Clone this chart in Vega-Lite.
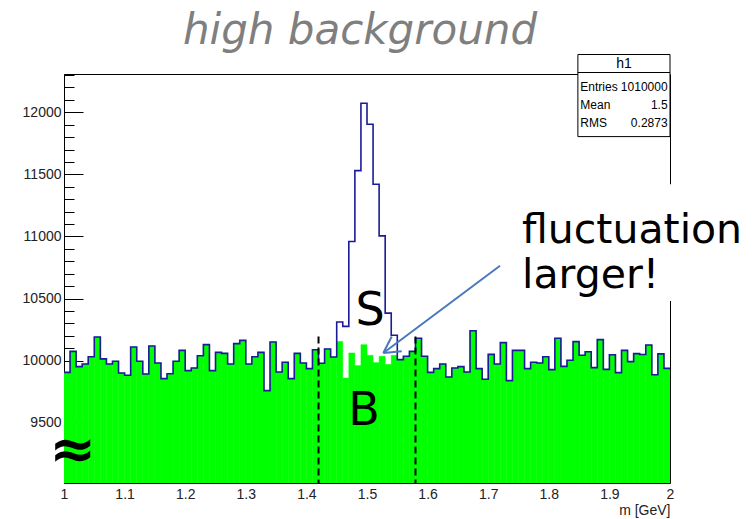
{
  "$schema": "https://vega.github.io/schema/vega-lite/v6.json",
  "width": 606,
  "height": 409,
  "autosize": {"type": "none"},
  "padding": {"left": 64, "top": 74, "right": 86, "bottom": 36},
  "background": "white",
  "config": {"view": {"stroke": "black", "strokeWidth": 1}},
  "title": {"text": "high background", "anchor": "middle", "frame": "group", "font": "DejaVu Sans", "fontSize": 42, "fontStyle": "italic", "fontWeight": "normal", "color": "#7f7f7f", "dx": -7, "offset": 1},
  "datasets": {
    "hist": [
      {"lo":1.00,"hi":1.01,"total":9906,"bkg":9906},{"lo":1.01,"hi":1.02,"total":10075,"bkg":10075},{"lo":1.02,"hi":1.03,"total":9952,"bkg":9952},{"lo":1.03,"hi":1.04,"total":9973,"bkg":9973},{"lo":1.04,"hi":1.05,"total":10032,"bkg":10032},
      {"lo":1.05,"hi":1.06,"total":10190,"bkg":10190},{"lo":1.06,"hi":1.07,"total":10014,"bkg":10014},{"lo":1.07,"hi":1.08,"total":9973,"bkg":9973},{"lo":1.08,"hi":1.09,"total":9995,"bkg":9995},{"lo":1.09,"hi":1.10,"total":9901,"bkg":9901},
      {"lo":1.10,"hi":1.11,"total":9882,"bkg":9882},{"lo":1.11,"hi":1.12,"total":10110,"bkg":10110},{"lo":1.12,"hi":1.13,"total":9995,"bkg":9995},{"lo":1.13,"hi":1.14,"total":9893,"bkg":9893},{"lo":1.14,"hi":1.15,"total":10118,"bkg":10118},
      {"lo":1.15,"hi":1.16,"total":9981,"bkg":9981},{"lo":1.16,"hi":1.17,"total":9855,"bkg":9855},{"lo":1.17,"hi":1.18,"total":9895,"bkg":9895},{"lo":1.18,"hi":1.19,"total":9995,"bkg":9995},{"lo":1.19,"hi":1.20,"total":10083,"bkg":10083},
      {"lo":1.20,"hi":1.21,"total":9920,"bkg":9920},{"lo":1.21,"hi":1.22,"total":9941,"bkg":9941},{"lo":1.22,"hi":1.23,"total":10040,"bkg":10040},{"lo":1.23,"hi":1.24,"total":10129,"bkg":10129},{"lo":1.24,"hi":1.25,"total":9920,"bkg":9920},
      {"lo":1.25,"hi":1.26,"total":10067,"bkg":10067},{"lo":1.26,"hi":1.27,"total":10059,"bkg":10059},{"lo":1.27,"hi":1.28,"total":9973,"bkg":9973},{"lo":1.28,"hi":1.29,"total":10137,"bkg":10137},{"lo":1.29,"hi":1.30,"total":10163,"bkg":10163},
      {"lo":1.30,"hi":1.31,"total":9973,"bkg":9973},{"lo":1.31,"hi":1.32,"total":10032,"bkg":10032},{"lo":1.32,"hi":1.33,"total":10067,"bkg":10067},{"lo":1.33,"hi":1.34,"total":9759,"bkg":9759},{"lo":1.34,"hi":1.35,"total":10150,"bkg":10150},
      {"lo":1.35,"hi":1.36,"total":9909,"bkg":9909},{"lo":1.36,"hi":1.37,"total":9987,"bkg":9987},{"lo":1.37,"hi":1.38,"total":9855,"bkg":9855},{"lo":1.38,"hi":1.39,"total":10059,"bkg":10059},{"lo":1.39,"hi":1.40,"total":9981,"bkg":9981},
      {"lo":1.40,"hi":1.41,"total":9936,"bkg":9936},{"lo":1.41,"hi":1.42,"total":10088,"bkg":10088},{"lo":1.42,"hi":1.43,"total":9979,"bkg":9979},{"lo":1.43,"hi":1.44,"total":10094,"bkg":10094},{"lo":1.44,"hi":1.45,"total":10030,"bkg":10030},
      {"lo":1.45,"hi":1.46,"total":10311,"bkg":10155},{"lo":1.46,"hi":1.47,"total":10276,"bkg":9860},{"lo":1.47,"hi":1.48,"total":10959,"bkg":10062},{"lo":1.48,"hi":1.49,"total":11530,"bkg":9960},{"lo":1.49,"hi":1.50,"total":12072,"bkg":10129},
      {"lo":1.50,"hi":1.51,"total":11903,"bkg":10043},{"lo":1.51,"hi":1.52,"total":11420,"bkg":9984},{"lo":1.52,"hi":1.53,"total":11005,"bkg":10035},{"lo":1.53,"hi":1.54,"total":10383,"bkg":9970},{"lo":1.54,"hi":1.55,"total":10204,"bkg":10043},
      {"lo":1.55,"hi":1.56,"total":10008,"bkg":10008},{"lo":1.56,"hi":1.57,"total":10035,"bkg":10035},{"lo":1.57,"hi":1.58,"total":10075,"bkg":10075},{"lo":1.58,"hi":1.59,"total":10180,"bkg":10180},{"lo":1.59,"hi":1.60,"total":10035,"bkg":10035},
      {"lo":1.60,"hi":1.61,"total":9906,"bkg":9906},{"lo":1.61,"hi":1.62,"total":9936,"bkg":9936},{"lo":1.62,"hi":1.63,"total":9973,"bkg":9973},{"lo":1.63,"hi":1.64,"total":9869,"bkg":9869},{"lo":1.64,"hi":1.65,"total":9941,"bkg":9941},
      {"lo":1.65,"hi":1.66,"total":9952,"bkg":9952},{"lo":1.66,"hi":1.67,"total":9909,"bkg":9909},{"lo":1.67,"hi":1.68,"total":10241,"bkg":10241},{"lo":1.68,"hi":1.69,"total":9936,"bkg":9936},{"lo":1.69,"hi":1.70,"total":9850,"bkg":9850},
      {"lo":1.70,"hi":1.71,"total":10051,"bkg":10051},{"lo":1.71,"hi":1.72,"total":9973,"bkg":9973},{"lo":1.72,"hi":1.73,"total":10145,"bkg":10145},{"lo":1.73,"hi":1.74,"total":9839,"bkg":9839},{"lo":1.74,"hi":1.75,"total":10083,"bkg":10083},
      {"lo":1.75,"hi":1.76,"total":10083,"bkg":10083},{"lo":1.76,"hi":1.77,"total":9936,"bkg":9936},{"lo":1.77,"hi":1.78,"total":9987,"bkg":9987},{"lo":1.78,"hi":1.79,"total":9981,"bkg":9981},{"lo":1.79,"hi":1.80,"total":10032,"bkg":10032},
      {"lo":1.80,"hi":1.81,"total":9928,"bkg":9928},{"lo":1.81,"hi":1.82,"total":10180,"bkg":10180},{"lo":1.82,"hi":1.83,"total":9954,"bkg":9954},{"lo":1.83,"hi":1.84,"total":10003,"bkg":10003},{"lo":1.84,"hi":1.85,"total":10153,"bkg":10153},
      {"lo":1.85,"hi":1.86,"total":10043,"bkg":10043},{"lo":1.86,"hi":1.87,"total":10072,"bkg":10072},{"lo":1.87,"hi":1.88,"total":9944,"bkg":9944},{"lo":1.88,"hi":1.89,"total":10169,"bkg":10169},{"lo":1.89,"hi":1.90,"total":9930,"bkg":9930},
      {"lo":1.90,"hi":1.91,"total":10047,"bkg":10047},{"lo":1.91,"hi":1.92,"total":9904,"bkg":9904},{"lo":1.92,"hi":1.93,"total":10083,"bkg":10083},{"lo":1.93,"hi":1.94,"total":9992,"bkg":9992},{"lo":1.94,"hi":1.95,"total":10057,"bkg":10057},
      {"lo":1.95,"hi":1.96,"total":10050,"bkg":10050},{"lo":1.96,"hi":1.97,"total":10126,"bkg":10126},{"lo":1.97,"hi":1.98,"total":9887,"bkg":9887},{"lo":1.98,"hi":1.99,"total":10055,"bkg":10055},{"lo":1.99,"hi":2.00,"total":9938,"bkg":9938}
    ],
    "cuts": [{"m": 1.42, "top": 10195}, {"m": 1.58, "top": 10195}],
    "arrow": [
      {"x1": 1.7195, "y1": 10764, "x2": 1.5269, "y2": 10062},
      {"x1": 1.5408, "y1": 10195, "x2": 1.5269, "y2": 10062},
      {"x1": 1.5573, "y1": 10075, "x2": 1.5269, "y2": 10062}
    ],
    "letters": [
      {"t": "S", "x": 1.505, "y": 10290},
      {"t": "B", "x": 1.495, "y": 9485}
    ],
    "note": [
      {"t": "fluctuation", "x": 1.7558, "y": 10950},
      {"t": "larger!", "x": 1.7558, "y": 10588}
    ],
    "notebox": [{"x1": 1.74, "x2": 2.13, "y1": 10480, "y2": 11420}],
    "statbox": [{"x1": 1.848, "x2": 2.0, "y1": 11804, "y2": 12465, "ysep": 12320}],
    "statlabels": [
      {"k": "Entries", "v": "1010000", "y": 12207},
      {"k": "Mean", "v": "1.5", "y": 12062},
      {"k": "RMS", "v": "0.2873", "y": 11917}
    ]
  },
  "resolve": {"axis": {"x": "independent", "y": "independent"}},
  "layer": [
    {
      "data": {"name": "hist"},
      "mark": {"type": "bar", "color": "#00ff00", "stroke": "#00ff00", "strokeWidth": 0.5, "clip": true},
      "encoding": {
        "x": {"field": "lo", "type": "quantitative", "scale": {"domain": [1, 2], "nice": false, "zero": false},
              "axis": {"values": [1, 1.1, 1.2, 1.3, 1.4, 1.5, 1.6, 1.7, 1.8, 1.9, 2], "format": ".1~f", "ticks": false, "domain": false, "grid": false, "labelFont": "Liberation Sans", "labelFontSize": 14, "labelColor": "#222", "labelPadding": 4, "labelFlush": false,
                       "title": "m [GeV]", "titleFont": "Liberation Sans", "titleFontSize": 14, "titleFontWeight": "normal", "titleColor": "#222", "titleAnchor": "end", "titleAlign": "right", "titlePadding": 2}},
        "x2": {"field": "hi"},
        "y": {"field": "bkg", "type": "quantitative", "scale": {"domain": [9015, 12308], "nice": false, "zero": false},
              "axis": {"values": [9500, 10000, 10500, 11000, 11500, 12000], "format": "d", "orient": "left", "ticks": false, "grid": false, "domain": true, "domainColor": "black", "labelFont": "Liberation Sans", "labelFontSize": 14, "labelColor": "#222", "labelPadding": 3, "title": null}},
        "y2": {"datum": 9015}
      }
    },
    {
      "data": {"name": "hist"},
      "transform": [{"fold": ["lo", "hi"], "as": ["edge", "xpos"]}],
      "mark": {"type": "line", "color": "#1a1a9a", "strokeWidth": 1.6, "clip": true},
      "encoding": {
        "x": {"field": "xpos", "type": "quantitative", "axis": null},
        "y": {"field": "total", "type": "quantitative", "axis": {"values": [9500, 10000, 10500, 11000, 11500, 12000], "orient": "left", "ticks": true, "tickSize": -19, "tickColor": "black", "labels": false, "domain": false, "grid": false, "title": null}},
        "order": [{"field": "lo", "type": "quantitative"}, {"field": "edge", "sort": "descending"}]
      }
    },
    {
      "data": {"name": "cuts"},
      "mark": {"type": "rule", "color": "black", "strokeWidth": 2, "strokeDash": [7, 4]},
      "encoding": {
        "x": {"field": "m", "type": "quantitative", "axis": null},
        "y": {"field": "top", "type": "quantitative", "axis": {"values": [9100, 9200, 9300, 9400, 9600, 9700, 9800, 9900, 10100, 10200, 10300, 10400, 10600, 10700, 10800, 10900, 11100, 11200, 11300, 11400, 11600, 11700, 11800, 11900, 12100, 12200, 12300], "orient": "left", "ticks": true, "tickSize": -10, "tickColor": "black", "labels": false, "domain": false, "grid": false, "title": null}},
        "y2": {"datum": 9015}
      }
    },
    {
      "data": {"name": "arrow"},
      "mark": {"type": "rule", "color": "#4a78c0", "strokeWidth": 2},
      "encoding": {
        "x": {"field": "x1", "type": "quantitative", "axis": null},
        "y": {"field": "y1", "type": "quantitative", "axis": null},
        "x2": {"field": "x2"},
        "y2": {"field": "y2"}
      }
    },
    {
      "data": {"name": "letters"},
      "mark": {"type": "text", "font": "DejaVu Sans", "fontSize": 46, "color": "black", "align": "center", "baseline": "alphabetic"},
      "encoding": {
        "x": {"field": "x", "type": "quantitative", "axis": null},
        "y": {"field": "y", "type": "quantitative", "axis": null},
        "text": {"field": "t"}
      }
    },
    {
      "data": {"values": [{"t": "≈", "x": 1.0145, "y": 9270}]},
      "mark": {"type": "text", "font": "DejaVu Sans", "fontSize": 56, "fontWeight": "bold", "color": "black", "align": "center", "baseline": "middle"},
      "encoding": {
        "x": {"field": "x", "type": "quantitative", "axis": null},
        "y": {"field": "y", "type": "quantitative", "axis": null},
        "text": {"field": "t"}
      }
    },
    {
      "data": {"name": "notebox"},
      "mark": {"type": "rect", "color": "white"},
      "encoding": {
        "x": {"field": "x1", "type": "quantitative", "axis": null},
        "x2": {"field": "x2"},
        "y": {"field": "y1", "type": "quantitative", "axis": null},
        "y2": {"field": "y2"}
      }
    },
    {
      "data": {"name": "note"},
      "mark": {"type": "text", "font": "DejaVu Sans", "fontSize": 41, "color": "black", "align": "left", "baseline": "alphabetic"},
      "encoding": {
        "x": {"field": "x", "type": "quantitative", "axis": null},
        "y": {"field": "y", "type": "quantitative", "axis": null},
        "text": {"field": "t"}
      }
    },
    {
      "data": {"name": "statbox"},
      "mark": {"type": "rect", "fill": "white", "stroke": "black", "strokeWidth": 1},
      "encoding": {
        "x": {"field": "x1", "type": "quantitative", "axis": null},
        "x2": {"field": "x2"},
        "y": {"field": "y1", "type": "quantitative", "axis": null},
        "y2": {"field": "y2"}
      }
    },
    {
      "data": {"name": "statbox"},
      "mark": {"type": "rule", "color": "black", "strokeWidth": 1},
      "encoding": {
        "x": {"field": "x1", "type": "quantitative", "axis": null},
        "x2": {"field": "x2"},
        "y": {"field": "ysep", "type": "quantitative", "axis": null}
      }
    },
    {
      "data": {"values": [{"t": "h1", "x": 1.924, "y": 12392}]},
      "mark": {"type": "text", "font": "Liberation Sans", "fontSize": 14, "color": "black", "align": "center", "baseline": "middle"},
      "encoding": {
        "x": {"field": "x", "type": "quantitative", "axis": null},
        "y": {"field": "y", "type": "quantitative", "axis": null},
        "text": {"field": "t"}
      }
    },
    {
      "data": {"name": "statlabels"},
      "mark": {"type": "text", "font": "Liberation Sans", "fontSize": 12, "color": "black", "align": "left", "baseline": "middle"},
      "encoding": {
        "x": {"datum": 1.852, "type": "quantitative", "axis": null},
        "y": {"field": "y", "type": "quantitative", "axis": null},
        "text": {"field": "k"}
      }
    },
    {
      "data": {"name": "statlabels"},
      "mark": {"type": "text", "font": "Liberation Sans", "fontSize": 12, "color": "black", "align": "right", "baseline": "middle"},
      "encoding": {
        "x": {"datum": 1.996, "type": "quantitative", "axis": null},
        "y": {"field": "y", "type": "quantitative", "axis": null},
        "text": {"field": "v"}
      }
    }
  ]
}
